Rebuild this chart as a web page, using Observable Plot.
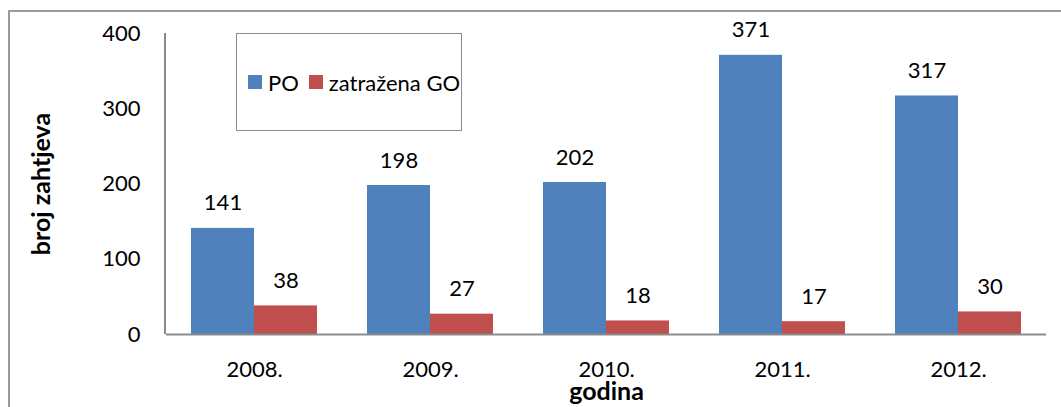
<!DOCTYPE html>
<html><head><meta charset="utf-8">
<script src="https://cdn.jsdelivr.net/npm/d3@7"></script>
<script src="https://cdn.jsdelivr.net/npm/@observablehq/plot@0.6"></script>
<style>
body{margin:0;background:#fff;font-family:Lato,"Open Sans",sans-serif;}
#wrap{position:relative;width:1061px;height:407px;overflow:hidden;}
#frame{position:absolute;left:8px;top:10px;width:1100px;height:500px;border-top:2px solid #9a9a9a;border-left:2px solid #9a9a9a;box-sizing:border-box;}
#chart{position:absolute;left:0;top:0;}
#legend{position:absolute;left:236px;top:33px;width:226px;height:98px;border:1.5px solid #8c8c8c;box-sizing:border-box;background:#fff;display:flex;align-items:center;padding-left:11px;font-size:22px;color:#000;white-space:nowrap;}
#legend .sw{display:inline-block;width:14px;height:14px;margin-right:6px;}
#legend .it{display:flex;align-items:center;margin-right:10px;}
g[aria-label$="axis label"]{font-weight:bold;font-size:25px;}
</style>
</head><body>
<div id="wrap"><div id="frame"></div><div id="chart"></div><div id="legend"></div></div>
<script>
const years = ["2008.","2009.","2010.","2011.","2012."];
const series = ["PO","zatražena GO"];
const poValues = [141,198,202,371,317];
const goValues = [38,27,18,17,30];
const yTicks = [0,100,200,300,400];
const colors = ["#4F81BD","#C0504D"];

const data = years.flatMap((y,i)=>[
  {year:y, series:series[0], value:poValues[i]},
  {year:y, series:series[1], value:goValues[i]}
]);

const chart = Plot.plot({
  width:1061, height:407,
  marginLeft:165, marginRight:14, marginTop:33, marginBottom:73,
  style:{fontFamily:"Lato, 'Open Sans', sans-serif", fontSize:"22px", color:"#000", background:"transparent", overflow:"visible"},
  fx:{domain:years, padding:0, label:null},
  x:{domain:series, paddingInner:0, paddingOuter:0.378, axis:null},
  y:{domain:[0,400], ticks:yTicks},
  color:{domain:series, range:colors},
  marks:[
    Plot.axisY({ticks:yTicks, tickSize:0, tickPadding:26, label:"broj zahtjeva", labelAnchor:"center", labelOffset:134, labelArrow:false}),
    Plot.axisFx({anchor:"bottom", tickSize:0, tickPadding:27, label:"godina", labelAnchor:"center", labelOffset:65, labelArrow:false}),
    Plot.barY(data,{fx:"year", x:"series", y:"value", fill:"series"}),
    Plot.text(data,{fx:"year", x:"series", y:"value", text:"value", dy:-25, fill:"#000"}),
    Plot.ruleY([0],{stroke:"#8c8c8c", strokeWidth:2})
  ]
});

// left axis line, positioned from the plot's own scales
const fxR = chart.scale("fx").range, yR = chart.scale("y").range;
d3.select(chart).append("line")
  .attr("x1", fxR[0]).attr("x2", fxR[0])
  .attr("y1", yR[0]).attr("y2", yR[1])
  .attr("stroke","#8c8c8c").attr("stroke-width",2);

document.getElementById("chart").appendChild(chart);

const lg = d3.select("#legend");
series.forEach((s,i)=>{
  const it = lg.append("span").attr("class","it");
  it.append("span").attr("class","sw").style("background",colors[i]);
  it.append("span").text(s);
});
</script>
</body></html>
